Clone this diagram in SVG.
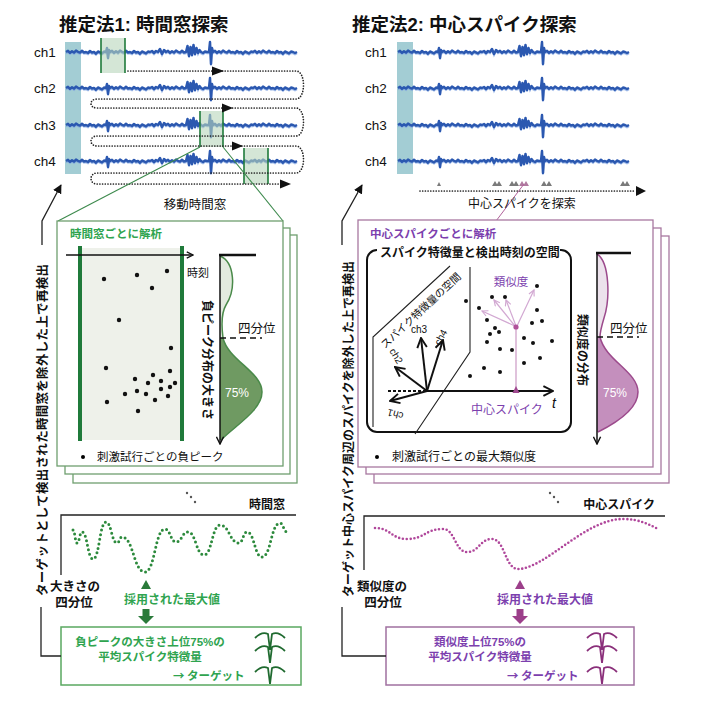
<svg xmlns="http://www.w3.org/2000/svg" xmlns:xlink="http://www.w3.org/1999/xlink" width="720" height="713" viewBox="0 0 720 713">
<defs>
<style>
text{font-family:'Liberation Sans','Noto Sans CJK JP',sans-serif;fill:#111}
.b{font-weight:bold}
.g{fill:#2fa44f}
.p{fill:#7c3fae}
.w{fill:#fff}
.mid{text-anchor:middle}
.end{text-anchor:end}
.cj{font-family:'Noto Sans CJK JP',sans-serif}
.tr1{fill:none;stroke:#2b58b0;stroke-width:2.5;stroke-linejoin:round}
.tr2{fill:none;stroke:#7aa0e0;stroke-width:1.6;opacity:.7}
.ln{fill:none;stroke:#222;stroke-width:1.3}
.dotg{fill:none;stroke:#2c8a3c;stroke-width:3;stroke-linecap:round;stroke-dasharray:0 4.6}
.dotp{fill:none;stroke:#b0479b;stroke-width:2.6;stroke-linecap:round;stroke-dasharray:0 3.8}
.serp{fill:none;stroke:#222;stroke-width:1.7;stroke-linecap:round;stroke-dasharray:0 2.7}
.cardg{fill:#fff;stroke:#6f9f6f;stroke-width:1.3}
.cardp{fill:#fff;stroke:#a878a0;stroke-width:1.3}
.win{fill:#b7d6bb;opacity:.6}
.wedge{stroke:#1f7a3a;stroke-width:1.6}
.wvg{fill:none;stroke:#1f6a2f;stroke-width:1.8}
.wvp{fill:none;stroke:#8a2f7a;stroke-width:1.8}
</style>
<path id="tr" d="M0,0 l2,-1.2 2,2 2,-1.6 2,1.4 2,-2 2,1.2 2,0.8 2,-1.8 2,1.6 2,-0.4 l2,1 2,-2 2,1.5 2,-0.6 2,1.8 2,-2.2 2,0.9 2,1 2,-1.8 2,0.4 l1,-4 1,10 1,-8 1,2 l2,-1.2 2,2 2,-1.6 2,1.4 2,-2 2,1.2 2,0.8 2,-1.8 2,1.6 2,-0.4 l2,1 2,-2 2,1.5 2,-0.6 2,1.8 2,-2.2 2,0.9 2,1 2,-1.8 2,0.4 l2,-1 2,2 2,-2 2,1 l2,-3 2,5 2,-4 2,2 l2,-1.2 2,2 2,-1.6 2,1.4 2,-2 2,1.2 2,0.8 2,-1.8 2,1.6 2,-0.4 l1.5,-6 1.5,10 1.5,-9 1.5,8 1.5,-10 1.5,9 1.5,-6 1.5,5 1.5,-3 1.5,2 l2,1 2,-1.5 2,0.5 2,0 l1,-10 1,22 1,-16 1,4 l2,-1.2 2,2 2,-1.6 2,1.4 2,-2 2,1.2 2,0.8 2,-1.8 2,1.6 2,-0.4 l2,1 2,-2 2,1.5 2,-0.6 2,1.8 2,-2.2 2,0.9 2,1 2,-1.8 2,0.4 l2,-1.2 2,2 2,-1.6 2,1.4 2,-2 2,1.2 2,0.8 2,-1.8 2,1.6 2,-0.4 l2,1 2,-2 2,1.5 2,-0.6 2,1.8 2,-2.2 2,0.9 2,1 2,-1.8 2,0.4 l2,1 2,-1"/>
<path id="wv" d="M0,5 Q7,-2 13,1 L15,17 L17,1 Q23,-2 30,5"/>
<marker id="ahF" viewBox="0 0 10 10" refX="9" refY="5" markerWidth="7" markerHeight="7" orient="auto"><path d="M0,0 L10,5 L0,10 z" fill="#111"/></marker>
<marker id="ahO" viewBox="0 0 10 10" refX="9" refY="5" markerWidth="6" markerHeight="6" orient="auto"><path d="M1,1 L9,5 L1,9" fill="none" stroke="#111" stroke-width="1.6"/></marker>
<marker id="ahP" viewBox="0 0 10 10" refX="9" refY="5" markerWidth="6" markerHeight="6" orient="auto"><path d="M1,1 L9,5 L1,9" fill="none" stroke="#d2a8d2" stroke-width="1.6"/></marker>
</defs>
<rect width="720" height="713" fill="#fff"/>

<text x="59" y="31" class="b" font-size="18.5">推定法1: 時間窓探索</text>
<text x="352" y="31" class="b" font-size="18.5">推定法2: 中心スパイク探索</text>

<!-- Method 1 top: traces and moving window -->
<g id="m1-traces">
<rect x="65" y="42" width="16" height="132" fill="#a3cdd4"/>
<g font-size="13.5"><text x="34" y="57">ch1</text><text x="34" y="93">ch2</text><text x="34" y="130">ch3</text><text x="34" y="166">ch4</text></g>
<use href="#tr" x="66" y="53.5" class="tr2"/><use href="#tr" x="66" y="52" class="tr1"/>
<use href="#tr" x="66" y="89.5" class="tr2"/><use href="#tr" x="66" y="88" class="tr1"/>
<use href="#tr" x="66" y="126.5" class="tr2"/><use href="#tr" x="66" y="125" class="tr1"/>
<use href="#tr" x="66" y="162.5" class="tr2"/><use href="#tr" x="66" y="161" class="tr1"/>
<rect x="101" y="38" width="24" height="35" class="win"/>
<rect x="200" y="111" width="23" height="36" class="win"/>
<rect x="244" y="148" width="24" height="36" class="win"/>
<g class="wedge"><line x1="101" y1="38" x2="101" y2="73"/><line x1="125" y1="38" x2="125" y2="73"/><line x1="200" y1="111" x2="200" y2="147"/><line x1="223" y1="111" x2="223" y2="147"/><line x1="244" y1="148" x2="244" y2="184"/><line x1="268" y1="148" x2="268" y2="184"/></g>
<path class="serp" d="M128,71 H296 C306,71 306,99 296,99 H97 C89,99 89,108 97,108 H296 C306,108 306,136 296,136 H97 C89,136 89,146 97,146 H296 C306,146 306,173 296,173 H97 C89,173 89,184 97,184 H284"/>
<g fill="#111"><polygon points="212,66.5 224,71 212,75.5"/><polygon points="222,103.5 233,108 222,112.5"/><polygon points="232,141.5 243,146 232,150.5"/><polygon points="280,179.5 291,184 280,188.5"/></g>
<text x="195" y="209" class="mid" font-size="12.5">移動時間窓</text>
</g>

<!-- Method 2 top -->
<g id="m2-traces">
<rect x="397" y="42" width="16" height="132" fill="#a3cdd4"/>
<g font-size="13.5"><text x="365" y="57">ch1</text><text x="365" y="93">ch2</text><text x="365" y="130">ch3</text><text x="365" y="166">ch4</text></g>
<use href="#tr" x="398" y="53.5" class="tr2"/><use href="#tr" x="398" y="52" class="tr1"/>
<use href="#tr" x="398" y="89.5" class="tr2"/><use href="#tr" x="398" y="88" class="tr1"/>
<use href="#tr" x="398" y="126.5" class="tr2"/><use href="#tr" x="398" y="125" class="tr1"/>
<use href="#tr" x="398" y="162.5" class="tr2"/><use href="#tr" x="398" y="161" class="tr1"/>
<g fill="#7a7a7a">
<polygon points="437,186 439,182 441,186"/>
<polygon points="492,186 495,181 498,186"/><polygon points="496,186 499,181 502,186"/>
<polygon points="509,186 512,181 515,186"/><polygon points="513,186 516,181 519,186"/>
<polygon points="541,186 544,181 547,186"/><polygon points="546,186 549,181 552,186"/>
<polygon points="620,186 623,181 626,186"/><polygon points="624,186 627,181 630,186"/>
</g>
<g fill="#b07aa0"><polygon points="519,186 522,181 525,186"/><polygon points="523,186 526,181 529,186"/></g>
<line x1="420" y1="191" x2="636" y2="191" class="serp"/>
<polygon points="636,186 646,191 636,196" fill="#111"/>
<line x1="524" y1="184" x2="496" y2="221" stroke="#b0609a" stroke-width="1"/>
<text x="522" y="208" class="mid" font-size="12">中心スパイクを探索</text>
</g>

<!-- Method 1 analysis cards -->
<g id="m1-cards">
<line x1="200" y1="147" x2="58" y2="221" stroke="#3d8a4d" stroke-width="1.1"/>
<line x1="223" y1="147" x2="283" y2="221" stroke="#3d8a4d" stroke-width="1.1"/>
<rect x="73" y="235" width="224" height="248" class="cardg"/>
<rect x="65" y="228" width="225" height="246" class="cardg"/>
<rect x="57" y="221" width="226" height="245" class="cardg"/>
<text x="70" y="238" class="b g" font-size="11.5">時間窓ごとに解析</text>
<rect x="80" y="248" width="102" height="192" fill="#eef1ea"/>
<line x1="80" y1="246" x2="80" y2="441" stroke="#1f7a3a" stroke-width="4"/>
<line x1="182" y1="246" x2="182" y2="441" stroke="#1f7a3a" stroke-width="4"/>
<line x1="66" y1="255" x2="193" y2="255" stroke="#111" stroke-width="1.3" marker-end="url(#ahO)"/>
<text x="187" y="277" font-size="11">時刻</text>
<g fill="#111">
<circle cx="104" cy="279" r="2.2"/><circle cx="137" cy="275" r="2.2"/><circle cx="167" cy="271" r="2.2"/><circle cx="152" cy="288" r="2.2"/>
<circle cx="119" cy="320" r="2.2"/><circle cx="171" cy="348" r="2.2"/><circle cx="106" cy="368" r="2.2"/><circle cx="170" cy="371" r="2.2"/>
<circle cx="153" cy="375" r="2.2"/><circle cx="135" cy="379" r="2.2"/><circle cx="148" cy="383" r="2.2"/><circle cx="161" cy="381" r="2.2"/>
<circle cx="175" cy="383" r="2.2"/><circle cx="161" cy="389" r="2.2"/><circle cx="170" cy="387" r="2.2"/><circle cx="125" cy="394" r="2.2"/>
<circle cx="137" cy="391" r="2.2"/><circle cx="146" cy="394" r="2.2"/><circle cx="168" cy="396" r="2.2"/><circle cx="155" cy="400" r="2.2"/>
<circle cx="107" cy="402" r="2.2"/><circle cx="138" cy="411" r="2.2"/>
</g>
<path d="M220,256 C235,262 236,290 226,305 C220,315 222,330 223,338 L220,338 Z" fill="#e3ebdf"/>
<path d="M223,338 C228,360 262,372 262,392 C262,410 236,425 221,440 L220,440 L220,338 Z" fill="#6f9a62"/>
<path d="M220,256 C235,262 236,290 226,305 C220,315 222,330 223,338 C228,360 262,372 262,392 C262,410 236,425 221,440" fill="none" stroke="#4a8a4a" stroke-width="1.5"/>
<line x1="220" y1="255" x2="220" y2="444" stroke="#111" stroke-width="1.5" marker-end="url(#ahO)"/>
<line x1="219" y1="255" x2="256" y2="255" stroke="#111" stroke-width="2.5"/>
<line x1="220" y1="338" x2="262" y2="338" stroke="#111" stroke-width="1.5" stroke-dasharray="6 4"/>
<text x="238" y="333" font-size="12.5">四分位</text>
<text x="237" y="397" class="mid w" font-size="12">75%</text>
<text transform="translate(202.5,360) rotate(90)" class="mid b" font-size="12">負ピーク分布の大きさ</text>
<circle cx="83" cy="457" r="2"/>
<text x="97" y="461" font-size="11.5">刺激試行ごとの負ピーク</text>
</g>

<!-- Method 2 analysis cards -->
<g id="m2-cards">
<rect x="374" y="236" width="295" height="247" class="cardp"/>
<rect x="366" y="228" width="295" height="246" class="cardp"/>
<rect x="358" y="220" width="295" height="247" class="cardp"/>
<text x="370" y="238" class="b p" font-size="11.5">中心スパイクごとに解析</text>
<rect x="367" y="250" width="204" height="182" rx="10" fill="none" stroke="#111" stroke-width="2"/>
<rect x="377" y="244" width="183" height="12" fill="#fff"/>
<text x="380" y="257" class="b" font-size="12">スパイク特徴量と検出時刻の空間</text>
<path d="M373,427 V337 L450,266" fill="none" stroke="#222" stroke-width="1.1"/>
<path d="M470,267 V352 L415,434" fill="none" stroke="#222" stroke-width="1.1"/>
<text transform="translate(385,349) rotate(-43)" font-size="10.5">スパイク特徴量の空間</text>
<line x1="388" y1="391" x2="424" y2="391" stroke="#111" stroke-width="2.2" stroke-dasharray="3 2"/>
<line x1="424" y1="391" x2="553" y2="391" stroke="#111" stroke-width="2" marker-end="url(#ahO)"/>
<g stroke="#111" stroke-width="2" marker-end="url(#ahO)">
<line x1="427" y1="391" x2="390" y2="401"/>
<line x1="427" y1="391" x2="395" y2="367"/>
<line x1="427" y1="391" x2="421" y2="338"/>
<line x1="427" y1="391" x2="443" y2="340"/>
</g>
<text x="411" y="333" font-size="10">ch3</text>
<text transform="translate(440,346) rotate(-62)" font-size="10">ch4</text>
<text transform="translate(389,351) rotate(58)" font-size="10">ch2</text>
<text transform="translate(404,413) rotate(195)" font-size="10">ch1</text>
<text x="552" y="408" font-size="14" font-style="italic">t</text>
<g fill="#111">
<circle cx="466" cy="301" r="2"/><circle cx="479" cy="308" r="2"/><circle cx="492" cy="297" r="2"/><circle cx="505" cy="297" r="2"/>
<circle cx="537" cy="286" r="2"/><circle cx="537" cy="310" r="2"/><circle cx="487" cy="320" r="2"/><circle cx="495" cy="328" r="2"/>
<circle cx="490" cy="334" r="2"/><circle cx="499" cy="332" r="2"/><circle cx="487" cy="342" r="2"/><circle cx="532" cy="323" r="2"/>
<circle cx="542" cy="321" r="2"/><circle cx="524" cy="338" r="2"/><circle cx="533" cy="343" r="2"/><circle cx="552" cy="341" r="2"/>
<circle cx="500" cy="349" r="2"/><circle cx="512" cy="350" r="2"/><circle cx="540" cy="358" r="2"/><circle cx="524" cy="363" r="2"/>
<circle cx="484" cy="368" r="2"/><circle cx="500" cy="372" r="2"/><circle cx="470" cy="376" r="2"/>
</g>
<g stroke="#d2a8d2" stroke-width="1.2" marker-end="url(#ahP)">
<line x1="515" y1="326" x2="482" y2="311"/>
<line x1="515" y1="326" x2="494" y2="300"/>
<line x1="516" y1="326" x2="506" y2="300"/>
<line x1="517" y1="326" x2="534" y2="290"/>
</g>
<line x1="516" y1="327" x2="516" y2="390" stroke="#d6aed0" stroke-width="1.5"/>
<circle cx="516" cy="327" r="2.6" fill="#b0509a"/>
<polygon points="512.5,393 516,386 519.5,393" fill="#a04a90"/>
<text x="511" y="286" class="mid p" font-size="11.5">類似度</text>
<text x="507" y="414" class="mid p" font-size="12">中心スパイク</text>
<path d="M597,254 C610,262 610,300 604,318 C601,328 600,333 600,337 L597,337 Z" fill="#ece2ec"/>
<path d="M600,337 C605,360 638,372 638,392 C638,410 612,425 598,432 L597,432 L597,337 Z" fill="#c48fbd"/>
<path d="M597,254 C610,262 610,300 604,318 C601,328 600,333 600,337 C605,360 638,372 638,392 C638,410 612,425 598,432" fill="none" stroke="#9c4a8c" stroke-width="1.5"/>
<line x1="597" y1="253" x2="597" y2="444" stroke="#111" stroke-width="1.5" marker-end="url(#ahO)"/>
<line x1="596" y1="253" x2="631" y2="253" stroke="#111" stroke-width="2.5"/>
<line x1="597" y1="337" x2="639" y2="337" stroke="#111" stroke-width="1.5" stroke-dasharray="6 4"/>
<text x="610" y="333" font-size="12.5">四分位</text>
<text x="615" y="397" class="mid w" font-size="12">75%</text>
<text transform="translate(577.5,350) rotate(90)" class="mid b" font-size="12">類似度の分布</text>
<circle cx="377" cy="457" r="2"/>
<text x="392" y="461" font-size="12">刺激試行ごとの最大類似度</text>
</g>

<!-- Method 1 bottom -->
<g id="m1-result">
<g fill="#555"><circle cx="187" cy="493" r="1.2"/><circle cx="191" cy="497" r="1.2"/><circle cx="195" cy="502" r="1.2"/></g>
<path d="M61,575 V515 H296" class="ln"/>
<text x="285" y="509" class="end b" font-size="12">時間窓</text>
<path class="dotg" d="M73,530 C75,530 75,543 77,543 C79.5,543 79.5,532 82,532 C87.5,532 87.5,559 93,559 C99.5,559 99.5,522 106,522 C111.5,522 111.5,543 117,543 C119.5,543 119.5,537 122,537 C133.5,537 133.5,572 145,572 C155,572 155,529 165,529 C170.5,529 170.5,542 176,542 C182,542 182,532 188,532 C196,532 196,555 204,555 C212,555 212,525 220,525 C229.5,525 229.5,543 239,543 C243,543 243,532 247,532 C254.5,532 254.5,557 262,557 C271,557 271,523 280,523 C283.5,523 283.5,532 287,532"/>
<text x="75" y="591" class="mid b" font-size="12.5">大きさの</text>
<text x="74" y="607" class="mid b" font-size="12.5">四分位</text>
<polygon points="141,589 146,580 151,589" fill="#2a7a3a"/>
<text x="172" y="604" class="mid b g" font-size="12">採用された最大値</text>
<path d="M142.5,609 h7 v7 h4.5 l-8,8 l-8,-8 h4.5 z" fill="#2a7a3a"/>
<rect x="61" y="627" width="240" height="58" fill="#fff" stroke="#5aa860" stroke-width="1.5"/>
<text x="150" y="646" class="mid b g" font-size="11.5">負ピークの大きさ上位75%の</text>
<text x="150" y="661" class="mid b g" font-size="11.5">平均スパイク特徴量</text>
<text x="173" y="680" class="b g cj" font-size="11.5">→ ターゲット</text>
<use href="#wv" x="255" y="633" class="wvg"/>
<use href="#wv" x="255" y="646" class="wvg"/>
<use href="#wv" x="255" y="667" class="wvg"/>
</g>

<!-- Method 2 bottom -->
<g id="m2-result">
<g fill="#555"><circle cx="550" cy="493" r="1.2"/><circle cx="554" cy="497" r="1.2"/><circle cx="558" cy="502" r="1.2"/></g>
<path d="M364,570 V516 H665" class="ln"/>
<text x="655" y="509" class="end b" font-size="12">中心スパイク</text>
<path class="dotp" d="M375,528 C391,528 391,539 407,539 C425,539 425,529 443,529 C455,529 455,552 467,552 C479.5,552 479.5,539 492,539 C505,539 505,569 518,569 C545,569 585,519 623,519 C640,519 650,525 658,529"/>
<text x="382" y="591" class="mid b" font-size="12.5">類似度の</text>
<text x="383" y="607" class="mid b" font-size="12.5">四分位</text>
<polygon points="515,589 520,580 525,589" fill="#9c3f8a"/>
<text x="545" y="604" class="mid b p" font-size="12">採用された最大値</text>
<path d="M516.5,609 h7 v7 h4.5 l-8,8 l-8,-8 h4.5 z" fill="#9c3f8a"/>
<rect x="386" y="627" width="248" height="58" fill="#fff" stroke="#a070a0" stroke-width="1.5"/>
<text x="480" y="646" class="mid b p" font-size="11.5">類似度上位75%の</text>
<text x="480" y="661" class="mid b p" font-size="11.5">平均スパイク特徴量</text>
<text x="507" y="680" class="b p cj" font-size="11.5">→ ターゲット</text>
<use href="#wv" x="587" y="633" class="wvp"/>
<use href="#wv" x="587" y="646" class="wvp"/>
<use href="#wv" x="587" y="667" class="wvp"/>
</g>

<!-- Feedback connectors -->
<g id="connectors">
<path d="M41,607 V656 H61" class="ln"/>
<path d="M42,245 V221 L61,185" class="ln" marker-end="url(#ahF)"/>
<path d="M342,607 V656 H386" class="ln"/>
<path d="M342,245 V221 L362,185" class="ln" marker-end="url(#ahF)"/>
<text transform="translate(46.5,430) rotate(-90)" class="mid b" font-size="12.5" textLength="332" lengthAdjust="spacing">ターゲットとして検出された時間窓を除外した上で再検出</text>
<text transform="translate(352.5,429) rotate(-90)" class="mid b" font-size="12" textLength="336" lengthAdjust="spacing">ターゲット中心スパイク周辺のスパイクを除外した上で再検出</text>
</g>
</svg>
